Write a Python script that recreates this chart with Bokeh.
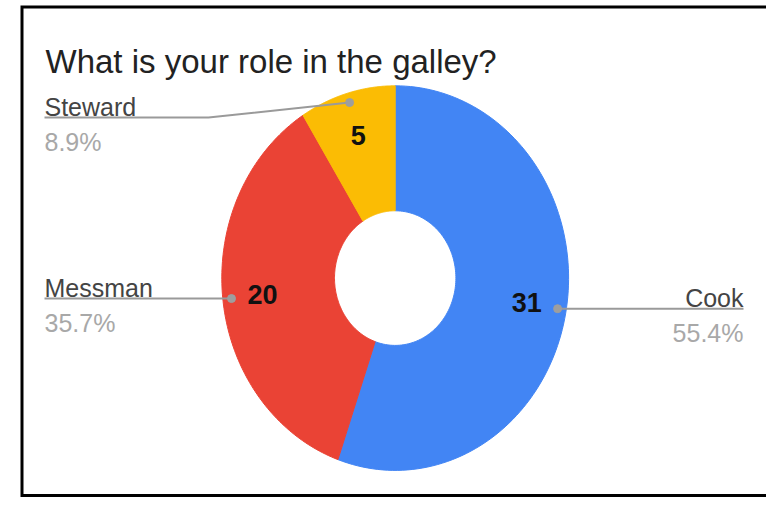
import numpy as np
from bokeh.plotting import figure
from bokeh.models import Range1d
from bokeh.core.properties import value
from bokeh.embed import file_html
from bokeh.resources import INLINE

# ---- data ----
title = "What is your role in the galley?"
categories = ["Cook", "Messman", "Steward"]
counts = [31, 20, 5]
colors = ["#4285F4", "#EA4335", "#FBBC04"]

# ---- layout / style ----
W, H = 766, 497
cx, cy = 394.7, 277.6        # donut centre (px, y downward)
rx, ry = 173.4, 192.3        # outer radii
hole = 0.35                  # inner / outer
num_r = 0.77                 # radius fraction for count labels
dot_r = 0.95                 # radius fraction for leader dots
FONT = value("Liberation Sans")
LBL = "25px"

p = figure(width=W, height=H, x_range=Range1d(0, W), y_range=Range1d(H, 0),
           x_axis_type=None, y_axis_type=None, output_backend="svg",
           toolbar_location=None, min_border=0)
p.grid.visible = False
p.outline_line_color = None
p.background_fill_color = "white"
p.border_fill_color = "white"

vals = np.array(counts, dtype=float)
frac = vals / vals.sum()
ends = np.cumsum(frac) * 2 * np.pi
starts = ends - frac * 2 * np.pi
mids = (starts + ends) / 2

def pt(theta, r):
    return cx + r * rx * np.sin(theta), cy - r * ry * np.cos(theta)

xs, ys = [], []
for a0, a1 in zip(starts, ends):
    t = np.linspace(a0, a1, 120)
    ox, oy = pt(t, 1.0)
    ix, iy = pt(t[::-1], hole)
    xs.append(list(np.concatenate([ox, ix])))
    ys.append(list(np.concatenate([oy, iy])))

p.patches(xs=xs, ys=ys, fill_color=colors, line_color=colors, line_width=1)

# count labels
nx, ny = pt(mids, num_r)
p.text(x=list(nx), y=list(ny), text=[str(c) for c in counts],
       text_font=FONT, text_font_style="bold", text_font_size="27px",
       text_color="#111111", text_align="center", text_baseline="middle")

# leader lines, dots and side labels
dx, dy = pt(mids, dot_r)
pct = [f"{100 * f:.1f}%" for f in frac]
line_col = "#9a9a9a"
name_col = "#444444"
pct_col = "#a8a8a8"
left_x, right_x = 44, 743

def side_label(i, x, ly, align):
    p.text(x=[x], y=[ly - 11], text=[categories[i]], text_font=FONT,
           text_font_size=LBL, text_color=name_col, text_align=align,
           text_baseline="alphabetic")
    p.text(x=[x], y=[ly + 24], text=[pct[i]], text_font=FONT,
           text_font_size=LBL, text_color=pct_col, text_align=align,
           text_baseline="alphabetic")

# Cook (right side)
i = 0
p.line(x=[dx[i], right_x], y=[dy[i], dy[i]], line_color=line_col, line_width=2)
side_label(i, right_x, dy[i], "right")

# Messman (left side)
i = 1
p.line(x=[left_x, dx[i]], y=[dy[i], dy[i]], line_color=line_col, line_width=2)
side_label(i, left_x, dy[i], "left")

# Steward (left, with knee)
i = 2
ky = 117
p.line(x=[left_x, 208, dx[i]], y=[ky, ky, dy[i]], line_color=line_col, line_width=2)
side_label(i, left_x, ky, "left")

p.scatter(x=list(dx), y=list(dy), size=8, fill_color="#9e9e9e",
          line_color="#9e9e9e")

# title
p.text(x=[45], y=[61], text=[title], text_font=FONT, text_font_size="33px",
       text_color="#222222", text_align="left", text_baseline="alphabetic")

# frame border (left, top, bottom; right runs off the picture)
p.line(x=[W + 5, 21.5, 21.5, W + 5], y=[6.5, 6.5, 495, 495],
       line_color="black", line_width=3, line_join="miter")

open("out.html", "w").write(file_html(p, INLINE))
